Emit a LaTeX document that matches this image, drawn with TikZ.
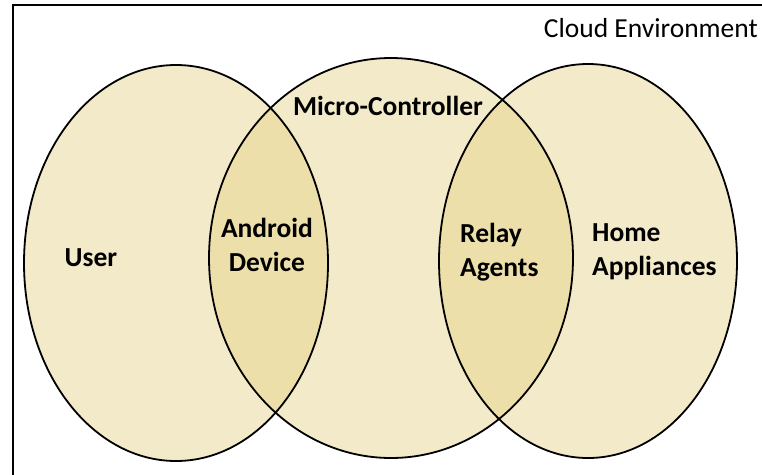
\documentclass[tikz,border=0pt]{standalone}
\usepackage{fontspec}
\setmainfont{Carlito}
\usepackage{tikz}
\usepackage{xcolor}
\definecolor{VennBeige}{HTML}{F3EAC9}
\definecolor{VennOverlap}{HTML}{EDDFA9}

\tikzset{
    setlabel/.style={font=\fontsize{27.5}{34}\selectfont\bfseries, inner sep=0pt},
    setline/.style={line width=1.8pt, draw=black}
}

\begin{document}
\begin{tikzpicture}[x=1pt,y=-1pt]
    \useasboundingbox (0,0) rectangle (762,474);
    \clip (0,0) rectangle (762,474);

    \coordinate (U) at (176,263);
    \coordinate (M) at (391,258);
    \coordinate (H) at (588,261);

    % frame of the cloud
    \draw[line width=2pt] (13,5) rectangle (800,520);

    \fill[VennBeige] (U) ellipse [x radius=152pt, y radius=198pt];
    \fill[VennBeige] (M) ellipse [x radius=182pt, y radius=200pt];
    \fill[VennBeige] (H) ellipse [x radius=149pt, y radius=197pt];
    \begin{scope}
        \clip (U) ellipse [x radius=152pt, y radius=198pt];
        \fill[VennOverlap] (M) ellipse [x radius=182pt, y radius=200pt];
    \end{scope}
    \begin{scope}
        \clip (H) ellipse [x radius=149pt, y radius=197pt];
        \fill[VennOverlap] (M) ellipse [x radius=182pt, y radius=200pt];
    \end{scope}
    \draw[setline] (U) ellipse [x radius=152pt, y radius=198pt];
    \draw[setline] (M) ellipse [x radius=182pt, y radius=200pt];
    \draw[setline] (H) ellipse [x radius=149pt, y radius=197pt];

    \node[font=\fontsize{27.5}{32}\selectfont, anchor=east, inner sep=0pt] (cloud) at (758,28) {Cloud Environment};
    \node[setlabel] (user) at (91,258) {User};
    \node[setlabel, align=center] (android) at (267,245) {Android\\Device};
    \node[setlabel] (micro) at (388,106) {Micro-Controller};
    \node[setlabel, align=left, anchor=west] (relay) at (460,252) {Relay\\Agents};
    \node[setlabel, align=left, anchor=west] (home) at (592,252) {Home\\Appliances};
\end{tikzpicture}
\end{document}
